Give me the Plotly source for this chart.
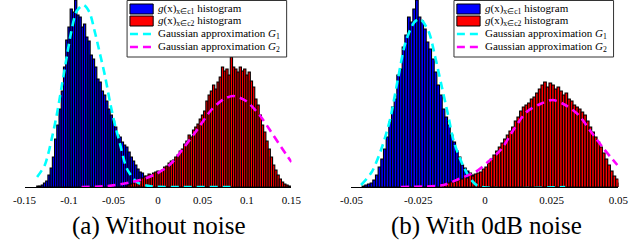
import plotly.graph_objects as go

# ---------------- data ----------------
# (a) without noise: histogram bin centres and heights (arbitrary count units)
a_blue_x = [-0.135 + 0.0025 * i for i in range(53)]
a_blue_h = [1, 1, 2, 4, 6, 12, 19, 30, 48, 62, 78, 96, 120, 147, 160, 178, 175, 187,
            172, 170, 160, 163, 150, 146, 132, 128, 120, 108, 105, 96, 92, 86, 78, 72,
            66, 60, 52, 50, 45, 42, 40, 35, 30, 26, 22, 18, 15, 14, 11, 9, 6, 5, 2]
a_red_x = [-0.035 + 0.0025 * i for i in range(74)]
a_red_h = [1, 2, 3, 4, 5, 7, 8, 9, 10, 11, 13, 12, 14, 15, 16, 15, 17, 20, 21, 24,
           26, 27, 30, 32, 36, 38, 43, 46, 52, 50, 57, 60, 63, 68, 72, 76, 86, 92, 96,
           102, 98, 105, 110, 120, 116, 118, 112, 130, 120, 118, 115, 120, 116, 118,
           112, 115, 106, 100, 88, 82, 72, 62, 55, 46, 38, 30, 22, 17, 12, 8, 5, 3, 2, 1]
a_g1_x = [-0.1359, -0.1272, -0.1185, -0.113, -0.1076, -0.1022, -0.0978, -0.0913,
          -0.0837, -0.0772, -0.0707, -0.0652, -0.0598, -0.0533, -0.0478, -0.0435,
          -0.0348, -0.0239, -0.013, -0.0022, 0.0815]
a_g1_y = [10, 22, 52, 76, 104, 132, 154, 176, 182, 175, 154, 133, 112, 82, 60, 46,
          18, 5, 1.5, 0.3, 0]
a_g2_x = [-0.0859, -0.0565, -0.0293, -0.013, -0.0022, 0.0087, 0.0163, 0.0304, 0.0446,
          0.0598, 0.0739, 0.0848, 0.099, 0.1141, 0.125, 0.1391, 0.15]
a_g2_y = [0, 1, 5, 9, 13, 19, 25, 41, 58, 77, 88, 91, 86, 72, 58, 39, 25]

# (b) with 0dB noise
b_blue_x = [-0.0455 + 0.001 * i for i in range(46)]
b_blue_h = [1, 2, 3, 4, 7, 12, 20, 28, 38, 50, 65, 80, 88, 112, 118, 140, 152, 170,
            165, 178, 187, 170, 166, 158, 145, 138, 128, 115, 102, 92, 78, 70, 62, 52,
            45, 36, 30, 22, 19, 16, 14, 12, 10, 8, 5, 2]
b_red_x = [-0.0165 + 0.001 * i for i in range(69)]
b_red_h = [2, 3, 3, 4, 5, 5, 6, 7, 8, 10, 9, 12, 11, 13, 14, 15, 18, 20, 24, 28, 32,
           36, 40, 44, 48, 52, 56, 60, 66, 70, 76, 80, 82, 84, 88, 90, 94, 98, 102, 105,
           100, 104, 102, 98, 100, 96, 92, 94, 88, 86, 82, 80, 78, 75, 72, 66, 60, 55,
           50, 45, 40, 34, 28, 22, 16, 11, 8, 4, 2]
b_g1_x = [-0.0464, -0.0424, -0.0388, -0.0355, -0.0326, -0.0297, -0.0264, -0.0243,
          -0.021, -0.0188, -0.0163, -0.0138, -0.0116, -0.0083, -0.0054, -0.0025, 0.0301]
b_g1_y = [2, 15, 38, 68, 108, 145, 165, 168, 155, 132, 102, 72, 45, 22, 8, 1, 0]
b_g2_x = [-0.0315, -0.0156, -0.0098, -0.0036, 0.0011, 0.0062, 0.0109, 0.0156, 0.0207,
          0.0254, 0.0301, 0.0351, 0.0398, 0.0446, 0.0496]
b_g2_y = [0, 2, 8, 15, 25, 38, 58, 75, 83, 87, 82, 72, 55, 38, 22]

a_ticks = [-0.15, -0.1, -0.05, 0, 0.05, 0.1, 0.15]
a_ticktext = ["-0.15", "-0.1", "-0.05", "0", "0.05", "0.1", "0.15"]
b_ticks = [-0.05, -0.025, 0, 0.025, 0.05]
b_ticktext = ["-0.05", "-0.025", "0", "0.025", "0.05"]

names = ["<i>g</i>(x)<sub>x∈c1</sub> histogram",
         "<i>g</i>(x)<sub>x∈c2</sub> histogram",
         "Gaussian approximation <i>G</i><sub>1</sub>",
         "Gaussian approximation <i>G</i><sub>2</sub>"]
captions = ["(a) Without noise", "(b) With 0dB noise"]

# ---------------- figure ----------------
SERIF = "Liberation Serif"
W, PH = 640, 187          # figure width, plot-area height (pixels)
BLUE, RED, CYAN, MAGENTA = "#0000ff", "#ff0000", "#00ffff", "#ff00ff"
DASH = "8px,5px"
fig = go.Figure()


def add_panel(xa, ya, bx, bh, rx, rh, g1x, g1y, g2x, g2y, width):
    fig.add_trace(go.Bar(x=bx, y=bh, width=width, name=names[0], xaxis=xa, yaxis=ya,
                         marker=dict(color=BLUE, line=dict(color="black", width=1.1))))
    fig.add_trace(go.Bar(x=rx, y=rh, width=width, name=names[1], xaxis=xa, yaxis=ya,
                         marker=dict(color=RED, line=dict(color="black", width=1.1))))
    fig.add_trace(go.Scatter(x=g1x, y=g1y, mode="lines", name=names[2], xaxis=xa,
                             yaxis=ya, line=dict(color=CYAN, width=2.6, dash=DASH,
                             shape="spline", smoothing=0.8)))
    fig.add_trace(go.Scatter(x=g2x, y=g2y, mode="lines", name=names[3], xaxis=xa,
                             yaxis=ya, line=dict(color=MAGENTA, width=2.6, dash=DASH,
                             shape="spline", smoothing=0.8)))


add_panel("x", "y", a_blue_x, a_blue_h, a_red_x, a_red_h,
          a_g1_x, a_g1_y, a_g2_x, a_g2_y, 0.0025)
add_panel("x2", "y2", b_blue_x, b_blue_h, b_red_x, b_red_h,
          b_g1_x, b_g1_y, b_g2_x, b_g2_y, 0.001)


def px(x):
    return x / W


def py(y):
    return (PH - y) / PH


# compact boxed legends (drawn in paper space)
shapes, annotations = [], []
row_y = [9, 21, 34, 47]
for left in (120, 458):
    right = left + 165
    shapes.append(dict(type="rect", xref="paper", yref="paper", x0=px(left), x1=px(right),
                       y0=py(57), y1=py(0.5), line=dict(color="#333", width=1),
                       fillcolor="white", layer="above"))
    sx0, sx1 = px(left + 3), px(left + 27)
    shapes.append(dict(type="rect", xref="paper", yref="paper", x0=sx0, x1=sx1,
                       y0=py(row_y[0] + 5), y1=py(row_y[0] - 5), fillcolor=BLUE,
                       line=dict(color="black", width=1), layer="above"))
    shapes.append(dict(type="rect", xref="paper", yref="paper", x0=sx0, x1=sx1,
                       y0=py(row_y[1] + 5), y1=py(row_y[1] - 5), fillcolor=RED,
                       line=dict(color="black", width=1), layer="above"))
    for r, col in ((2, CYAN), (3, MAGENTA)):
        shapes.append(dict(type="line", xref="paper", yref="paper", x0=sx0, x1=sx1,
                           y0=py(row_y[r]), y1=py(row_y[r]), layer="above",
                           line=dict(color=col, width=2.6, dash=DASH)))
    for r in range(4):
        annotations.append(dict(text=names[r], x=px(left + 30), y=py(row_y[r]),
                                xref="paper", yref="paper", xanchor="left",
                                yanchor="middle", showarrow=False,
                                font=dict(family=SERIF, size=11, color="black")))

for cx, cap in ((153, captions[0]), (492, captions[1])):
    annotations.append(dict(text=cap, x=px(cx), y=py(226), xref="paper", yref="paper",
                            showarrow=False, xanchor="center", yanchor="middle",
                            font=dict(family=SERIF, size=25, color="black")))

axis_common = dict(showgrid=False, zeroline=False, showline=True, linecolor="black",
                   linewidth=1, ticks="", ticklabelstandoff=3,
                   tickfont=dict(family=SERIF, size=11, color="black"), fixedrange=True)

fig.update_layout(
    width=W, height=240,
    margin=dict(l=0, r=0, t=0, b=240 - PH),
    plot_bgcolor="white", paper_bgcolor="white",
    barmode="overlay", bargap=0, showlegend=False,
    xaxis=dict(domain=[px(14), px(290)], range=[-0.15, 0.15], tickvals=a_ticks,
               ticktext=a_ticktext, **axis_common),
    xaxis2=dict(domain=[px(352), px(628)], range=[-0.05, 0.05], tickvals=b_ticks,
                ticktext=b_ticktext, **axis_common),
    yaxis=dict(range=[0, PH], visible=False, fixedrange=True),
    yaxis2=dict(range=[0, PH], visible=False, fixedrange=True, anchor="x2"),
    shapes=shapes,
    annotations=annotations,
)

fig.write_html("out.html", config={"displayModeBar": False, "staticPlot": True},
               post_script="document.body.style.margin='0px';")
